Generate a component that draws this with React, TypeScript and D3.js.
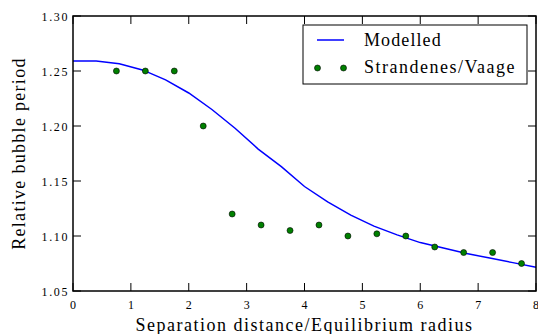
import * as d3 from 'd3'

// Modelled curve
const modelX = [0, 0.4, 0.8, 1.2, 1.6, 2.0, 2.4, 2.8, 3.2, 3.6, 4.0, 4.4, 4.8, 5.2, 5.6, 6.0, 6.4, 6.8, 7.2, 7.6, 8.0]
const modelY = [1.259, 1.259, 1.2565, 1.251, 1.242, 1.23, 1.215, 1.198, 1.179, 1.163, 1.145, 1.131, 1.119, 1.109, 1.101, 1.094, 1.089, 1.084, 1.08, 1.0758, 1.0715]

// Strandenes/Vaage measurements
const obsX = [0.75, 1.25, 1.75, 2.25, 2.75, 3.25, 3.75, 4.25, 4.75, 5.25, 5.75, 6.25, 6.75, 7.25, 7.75]
const obsY = [1.25, 1.25, 1.25, 1.2, 1.12, 1.11, 1.105, 1.11, 1.1, 1.102, 1.1, 1.09, 1.085, 1.085, 1.075]

const xTicks = [0, 1, 2, 3, 4, 5, 6, 7, 8]
const yTicks = [1.05, 1.1, 1.15, 1.2, 1.25, 1.3]

const FONT = 'Liberation Serif, DejaVu Serif, serif'
const width = 538
const height = 334
const margin = { top: 16, right: 2, bottom: 43, left: 73 }

export default function App() {
  const x = d3.scaleLinear().domain([0, 8]).range([margin.left, width - margin.right])
  const y = d3.scaleLinear().domain([1.05, 1.3]).range([height - margin.bottom, margin.top])
  const [x0, x1] = x.range()
  const [y0, y1] = y.range()
  const line = d3.line<number>().x((_, i) => x(modelX[i])).y(d => y(d))
  const tl = 8

  return (
    <svg width={width} height={height}
      style={{ position: 'absolute', left: 0, top: 0, background: '#fff' }}>
      <path d={line(modelY) ?? ''} fill="none" stroke="#0000ff" strokeWidth={1.5} />
      {obsY.map((v, i) => (
        <circle key={i} cx={x(obsX[i])} cy={y(v)} r={3} fill="#008000" stroke="#000" strokeWidth={0.6} />
      ))}

      {/* ticks on all sides, pointing in */}
      {xTicks.map(t => (
        <g key={`x${t}`}>
          <line x1={x(t)} x2={x(t)} y1={y0} y2={y0 - tl} stroke="#000" />
          <line x1={x(t)} x2={x(t)} y1={y1} y2={y1 + tl} stroke="#000" />
          <text x={x(t)} y={309} textAnchor="middle" fontFamily={FONT} fontSize={12}>{String(t)}</text>
        </g>
      ))}
      {yTicks.map(t => (
        <g key={`y${t}`}>
          <line x1={x0} x2={x0 + tl} y1={y(t)} y2={y(t)} stroke="#000" />
          <line x1={x1} x2={x1 - tl} y1={y(t)} y2={y(t)} stroke="#000" />
          <text x={x0 - 4} y={y(t) + 4.5} textAnchor="end" fontFamily={FONT} fontSize={12}
            style={{ letterSpacing: '1.6px' }}>{t.toFixed(2)}</text>
        </g>
      ))}

      <rect x={x0} y={y1} width={x1 - x0} height={y0 - y1} fill="none" stroke="#000" strokeWidth={1.5} />

      <text x={(x0 + x1) / 2} y={331} textAnchor="middle" fontFamily={FONT} fontSize={18}
        style={{ letterSpacing: '1.5px' }}>Separation distance/Equilibrium radius</text>
      <text transform={`translate(25,${(y0 + y1) / 2}) rotate(-90)`} textAnchor="middle"
        fontFamily={FONT} fontSize={18} style={{ letterSpacing: '1.3px' }}>Relative bubble period</text>

      {/* legend */}
      <rect x={303} y={25} width={224} height={59} fill="#fff" stroke="#000" strokeWidth={1} />
      <line x1={317} x2={344} y1={40} y2={40} stroke="#0000ff" strokeWidth={1.5} />
      <text x={364} y={46} fontFamily={FONT} fontSize={18} style={{ letterSpacing: '1.1px' }}>Modelled</text>
      {[317.5, 343.5].map(cx => (
        <circle key={cx} cx={cx} cy={68} r={3} fill="#008000" stroke="#000" strokeWidth={0.6} />
      ))}
      <text x={364} y={73} fontFamily={FONT} fontSize={18} style={{ letterSpacing: '1.5px' }}>Strandenes/Vaage</text>
    </svg>
  )
}
